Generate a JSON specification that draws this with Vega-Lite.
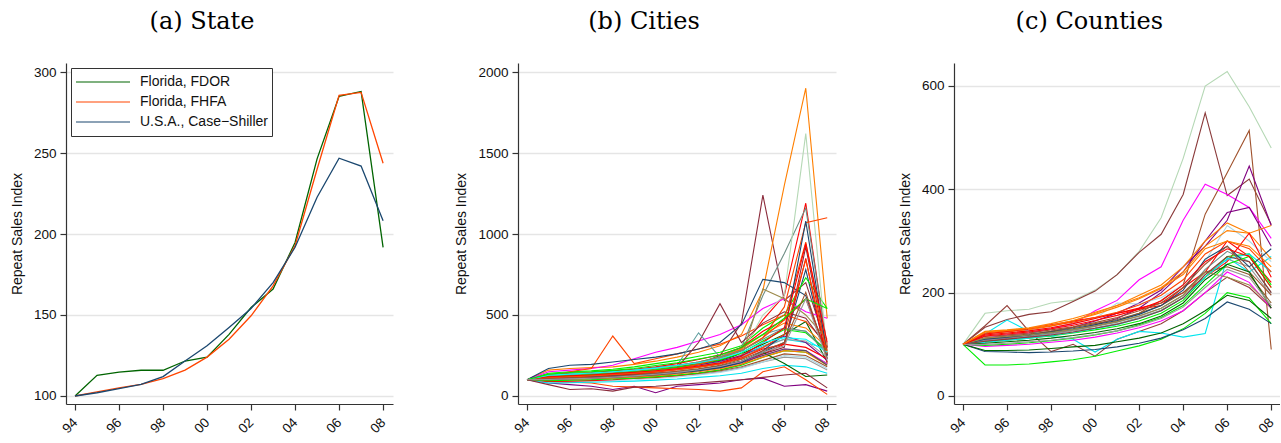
{
"$schema": "https://vega.github.io/schema/vega-lite/v6.json",
"background": "white",
"padding": {"left": 10, "top": 10, "right": 0, "bottom": 0},
"bounds": "flush",
"spacing": 125,
"resolve": {"scale": {"color": "independent"}, "legend": {"color": "independent"}},
"config": {
  "view": {"stroke": null},
  "font": "Liberation Sans",
  "axis": {"labelFont": "Liberation Sans", "labelFontSize": 13.5, "labelColor": "#111", "titleFont": "Liberation Sans", "titleFontSize": 14, "titleFontWeight": "normal", "titleColor": "#111", "domainColor": "#333", "domainWidth": 1.2, "tickColor": "#333", "tickSize": 6, "tickWidth": 1.2, "gridColor": "#e5e5e5", "gridWidth": 1.5, "labelPadding": 4, "titlePadding": 9, "format": "d"},
  "axisX": {"grid": false, "labelAngle": -45, "labelAlign": "right", "labelBaseline": "middle", "labelPadding": 10},
  "axisY": {"grid": true, "labelAngle": 0},
  "title": {"font": "DejaVu Serif", "fontSize": 24, "fontWeight": "normal", "color": "#000", "anchor": "middle", "frame": "group", "offset": 29, "baseline": "alphabetic"},
  "line": {"strokeWidth": 1.2}
},
"datasets": {
"state": [
{"s":"Florida, FDOR","x":1994,"y":100},{"s":"Florida, FDOR","x":1995,"y":112.8},{"s":"Florida, FDOR","x":1996,"y":114.8},{"s":"Florida, FDOR","x":1997,"y":115.9},{"s":"Florida, FDOR","x":1998,"y":115.9},{"s":"Florida, FDOR","x":1999,"y":121.6},{"s":"Florida, FDOR","x":2000,"y":124},{"s":"Florida, FDOR","x":2001,"y":138},{"s":"Florida, FDOR","x":2002,"y":154.6},{"s":"Florida, FDOR","x":2003,"y":166},{"s":"Florida, FDOR","x":2004,"y":194.8},{"s":"Florida, FDOR","x":2005,"y":246.4},{"s":"Florida, FDOR","x":2006,"y":285},{"s":"Florida, FDOR","x":2007,"y":288},{"s":"Florida, FDOR","x":2008,"y":191.8},
{"s":"Florida, FHFA","x":1994,"y":100},{"s":"Florida, FHFA","x":1995,"y":102.5},{"s":"Florida, FHFA","x":1996,"y":105},{"s":"Florida, FHFA","x":1997,"y":107.2},{"s":"Florida, FHFA","x":1998,"y":110.7},{"s":"Florida, FHFA","x":1999,"y":116},{"s":"Florida, FHFA","x":2000,"y":124},{"s":"Florida, FHFA","x":2001,"y":135},{"s":"Florida, FHFA","x":2002,"y":149.5},{"s":"Florida, FHFA","x":2003,"y":168},{"s":"Florida, FHFA","x":2004,"y":192.8},{"s":"Florida, FHFA","x":2005,"y":240},{"s":"Florida, FHFA","x":2006,"y":285.6},{"s":"Florida, FHFA","x":2007,"y":287.4},{"s":"Florida, FHFA","x":2008,"y":243.7},
{"s":"U.S.A., Case−Shiller","x":1994,"y":100},{"s":"U.S.A., Case−Shiller","x":1995,"y":102},{"s":"U.S.A., Case−Shiller","x":1996,"y":104.5},{"s":"U.S.A., Case−Shiller","x":1997,"y":107.2},{"s":"U.S.A., Case−Shiller","x":1998,"y":112},{"s":"U.S.A., Case−Shiller","x":1999,"y":121.6},{"s":"U.S.A., Case−Shiller","x":2000,"y":131},{"s":"U.S.A., Case−Shiller","x":2001,"y":142.3},{"s":"U.S.A., Case−Shiller","x":2002,"y":154},{"s":"U.S.A., Case−Shiller","x":2003,"y":170},{"s":"U.S.A., Case−Shiller","x":2004,"y":191.8},{"s":"U.S.A., Case−Shiller","x":2005,"y":222.7},{"s":"U.S.A., Case−Shiller","x":2006,"y":246.8},{"s":"U.S.A., Case−Shiller","x":2007,"y":241.9},{"s":"U.S.A., Case−Shiller","x":2008,"y":208.2}
],
"cities": [
{"s":"c01","x":1994,"y":100},{"s":"c01","x":1995,"y":110},{"s":"c01","x":1996,"y":112},{"s":"c01","x":1997,"y":115},{"s":"c01","x":1998,"y":120},{"s":"c01","x":1999,"y":128},{"s":"c01","x":2000,"y":140},{"s":"c01","x":2001,"y":150},{"s":"c01","x":2002,"y":165},{"s":"c01","x":2003,"y":185},{"s":"c01","x":2004,"y":215},{"s":"c01","x":2005,"y":270},{"s":"c01","x":2006,"y":330},{"s":"c01","x":2007,"y":780},{"s":"c01","x":2008,"y":230},
{"s":"c02","x":1994,"y":100},{"s":"c02","x":1995,"y":120},{"s":"c02","x":1996,"y":125},{"s":"c02","x":1997,"y":130},{"s":"c02","x":1998,"y":140},{"s":"c02","x":1999,"y":150},{"s":"c02","x":2000,"y":165},{"s":"c02","x":2001,"y":180},{"s":"c02","x":2002,"y":200},{"s":"c02","x":2003,"y":250},{"s":"c02","x":2004,"y":450},{"s":"c02","x":2005,"y":1240},{"s":"c02","x":2006,"y":590},{"s":"c02","x":2007,"y":700},{"s":"c02","x":2008,"y":300},
{"s":"c03","x":1994,"y":100},{"s":"c03","x":1995,"y":115},{"s":"c03","x":1996,"y":120},{"s":"c03","x":1997,"y":125},{"s":"c03","x":1998,"y":135},{"s":"c03","x":1999,"y":145},{"s":"c03","x":2000,"y":160},{"s":"c03","x":2001,"y":175},{"s":"c03","x":2002,"y":195},{"s":"c03","x":2003,"y":220},{"s":"c03","x":2004,"y":260},{"s":"c03","x":2005,"y":320},{"s":"c03","x":2006,"y":380},{"s":"c03","x":2007,"y":460},{"s":"c03","x":2008,"y":210},
{"s":"c04","x":1994,"y":100},{"s":"c04","x":1995,"y":160},{"s":"c04","x":1996,"y":170},{"s":"c04","x":1997,"y":175},{"s":"c04","x":1998,"y":180},{"s":"c04","x":1999,"y":195},{"s":"c04","x":2000,"y":215},{"s":"c04","x":2001,"y":240},{"s":"c04","x":2002,"y":270},{"s":"c04","x":2003,"y":310},{"s":"c04","x":2004,"y":380},{"s":"c04","x":2005,"y":650},{"s":"c04","x":2006,"y":1300},{"s":"c04","x":2007,"y":1900},{"s":"c04","x":2008,"y":480},
{"s":"c05","x":1994,"y":100},{"s":"c05","x":1995,"y":115},{"s":"c05","x":1996,"y":120},{"s":"c05","x":1997,"y":128},{"s":"c05","x":1998,"y":135},{"s":"c05","x":1999,"y":145},{"s":"c05","x":2000,"y":160},{"s":"c05","x":2001,"y":178},{"s":"c05","x":2002,"y":200},{"s":"c05","x":2003,"y":230},{"s":"c05","x":2004,"y":290},{"s":"c05","x":2005,"y":470},{"s":"c05","x":2006,"y":620},{"s":"c05","x":2007,"y":1190},{"s":"c05","x":2008,"y":300},
{"s":"c06","x":1994,"y":100},{"s":"c06","x":1995,"y":140},{"s":"c06","x":1996,"y":150},{"s":"c06","x":1997,"y":155},{"s":"c06","x":1998,"y":165},{"s":"c06","x":1999,"y":180},{"s":"c06","x":2000,"y":200},{"s":"c06","x":2001,"y":220},{"s":"c06","x":2002,"y":245},{"s":"c06","x":2003,"y":270},{"s":"c06","x":2004,"y":310},{"s":"c06","x":2005,"y":420},{"s":"c06","x":2006,"y":500},{"s":"c06","x":2007,"y":730},{"s":"c06","x":2008,"y":540},
{"s":"c07","x":1994,"y":100},{"s":"c07","x":1995,"y":125},{"s":"c07","x":1996,"y":130},{"s":"c07","x":1997,"y":135},{"s":"c07","x":1998,"y":140},{"s":"c07","x":1999,"y":150},{"s":"c07","x":2000,"y":160},{"s":"c07","x":2001,"y":175},{"s":"c07","x":2002,"y":190},{"s":"c07","x":2003,"y":210},{"s":"c07","x":2004,"y":250},{"s":"c07","x":2005,"y":310},{"s":"c07","x":2006,"y":350},{"s":"c07","x":2007,"y":330},{"s":"c07","x":2008,"y":290},
{"s":"c08","x":1994,"y":100},{"s":"c08","x":1995,"y":150},{"s":"c08","x":1996,"y":160},{"s":"c08","x":1997,"y":170},{"s":"c08","x":1998,"y":190},{"s":"c08","x":1999,"y":230},{"s":"c08","x":2000,"y":270},{"s":"c08","x":2001,"y":300},{"s":"c08","x":2002,"y":340},{"s":"c08","x":2003,"y":380},{"s":"c08","x":2004,"y":440},{"s":"c08","x":2005,"y":540},{"s":"c08","x":2006,"y":600},{"s":"c08","x":2007,"y":520},{"s":"c08","x":2008,"y":480},
{"s":"c09","x":1994,"y":100},{"s":"c09","x":1995,"y":80},{"s":"c09","x":1996,"y":70},{"s":"c09","x":1997,"y":60},{"s":"c09","x":1998,"y":40},{"s":"c09","x":1999,"y":60},{"s":"c09","x":2000,"y":20},{"s":"c09","x":2001,"y":60},{"s":"c09","x":2002,"y":70},{"s":"c09","x":2003,"y":80},{"s":"c09","x":2004,"y":100},{"s":"c09","x":2005,"y":110},{"s":"c09","x":2006,"y":60},{"s":"c09","x":2007,"y":70},{"s":"c09","x":2008,"y":30},
{"s":"c10","x":1994,"y":100},{"s":"c10","x":1995,"y":120},{"s":"c10","x":1996,"y":150},{"s":"c10","x":1997,"y":170},{"s":"c10","x":1998,"y":370},{"s":"c10","x":1999,"y":200},{"s":"c10","x":2000,"y":230},{"s":"c10","x":2001,"y":260},{"s":"c10","x":2002,"y":290},{"s":"c10","x":2003,"y":320},{"s":"c10","x":2004,"y":370},{"s":"c10","x":2005,"y":440},{"s":"c10","x":2006,"y":500},{"s":"c10","x":2007,"y":460},{"s":"c10","x":2008,"y":320},
{"s":"c11","x":1994,"y":100},{"s":"c11","x":1995,"y":130},{"s":"c11","x":1996,"y":135},{"s":"c11","x":1997,"y":140},{"s":"c11","x":1998,"y":150},{"s":"c11","x":1999,"y":160},{"s":"c11","x":2000,"y":175},{"s":"c11","x":2001,"y":190},{"s":"c11","x":2002,"y":210},{"s":"c11","x":2003,"y":240},{"s":"c11","x":2004,"y":300},{"s":"c11","x":2005,"y":620},{"s":"c11","x":2006,"y":880},{"s":"c11","x":2007,"y":1160},{"s":"c11","x":2008,"y":300},
{"s":"c12","x":1994,"y":100},{"s":"c12","x":1995,"y":105},{"s":"c12","x":1996,"y":110},{"s":"c12","x":1997,"y":115},{"s":"c12","x":1998,"y":120},{"s":"c12","x":1999,"y":128},{"s":"c12","x":2000,"y":140},{"s":"c12","x":2001,"y":155},{"s":"c12","x":2002,"y":175},{"s":"c12","x":2003,"y":200},{"s":"c12","x":2004,"y":260},{"s":"c12","x":2005,"y":500},{"s":"c12","x":2006,"y":620},{"s":"c12","x":2007,"y":1620},{"s":"c12","x":2008,"y":250},
{"s":"c13","x":1994,"y":100},{"s":"c13","x":1995,"y":100},{"s":"c13","x":1996,"y":102},{"s":"c13","x":1997,"y":105},{"s":"c13","x":1998,"y":110},{"s":"c13","x":1999,"y":115},{"s":"c13","x":2000,"y":122},{"s":"c13","x":2001,"y":130},{"s":"c13","x":2002,"y":140},{"s":"c13","x":2003,"y":155},{"s":"c13","x":2004,"y":180},{"s":"c13","x":2005,"y":220},{"s":"c13","x":2006,"y":260},{"s":"c13","x":2007,"y":250},{"s":"c13","x":2008,"y":180},
{"s":"c14","x":1994,"y":100},{"s":"c14","x":1995,"y":95},{"s":"c14","x":1996,"y":100},{"s":"c14","x":1997,"y":105},{"s":"c14","x":1998,"y":108},{"s":"c14","x":1999,"y":112},{"s":"c14","x":2000,"y":118},{"s":"c14","x":2001,"y":125},{"s":"c14","x":2002,"y":135},{"s":"c14","x":2003,"y":150},{"s":"c14","x":2004,"y":175},{"s":"c14","x":2005,"y":210},{"s":"c14","x":2006,"y":240},{"s":"c14","x":2007,"y":230},{"s":"c14","x":2008,"y":160},
{"s":"c15","x":1994,"y":100},{"s":"c15","x":1995,"y":85},{"s":"c15","x":1996,"y":88},{"s":"c15","x":1997,"y":92},{"s":"c15","x":1998,"y":95},{"s":"c15","x":1999,"y":100},{"s":"c15","x":2000,"y":108},{"s":"c15","x":2001,"y":118},{"s":"c15","x":2002,"y":130},{"s":"c15","x":2003,"y":145},{"s":"c15","x":2004,"y":170},{"s":"c15","x":2005,"y":210},{"s":"c15","x":2006,"y":250},{"s":"c15","x":2007,"y":240},{"s":"c15","x":2008,"y":170},
{"s":"c16","x":1994,"y":100},{"s":"c16","x":1995,"y":170},{"s":"c16","x":1996,"y":190},{"s":"c16","x":1997,"y":195},{"s":"c16","x":1998,"y":210},{"s":"c16","x":1999,"y":225},{"s":"c16","x":2000,"y":240},{"s":"c16","x":2001,"y":260},{"s":"c16","x":2002,"y":290},{"s":"c16","x":2003,"y":330},{"s":"c16","x":2004,"y":440},{"s":"c16","x":2005,"y":720},{"s":"c16","x":2006,"y":700},{"s":"c16","x":2007,"y":620},{"s":"c16","x":2008,"y":250},
{"s":"c17","x":1994,"y":100},{"s":"c17","x":1995,"y":105},{"s":"c17","x":1996,"y":110},{"s":"c17","x":1997,"y":118},{"s":"c17","x":1998,"y":125},{"s":"c17","x":1999,"y":135},{"s":"c17","x":2000,"y":150},{"s":"c17","x":2001,"y":170},{"s":"c17","x":2002,"y":195},{"s":"c17","x":2003,"y":230},{"s":"c17","x":2004,"y":280},{"s":"c17","x":2005,"y":360},{"s":"c17","x":2006,"y":550},{"s":"c17","x":2007,"y":1070},{"s":"c17","x":2008,"y":1100},
{"s":"c18","x":1994,"y":100},{"s":"c18","x":1995,"y":110},{"s":"c18","x":1996,"y":115},{"s":"c18","x":1997,"y":120},{"s":"c18","x":1998,"y":130},{"s":"c18","x":1999,"y":140},{"s":"c18","x":2000,"y":155},{"s":"c18","x":2001,"y":175},{"s":"c18","x":2002,"y":330},{"s":"c18","x":2003,"y":570},{"s":"c18","x":2004,"y":330},{"s":"c18","x":2005,"y":450},{"s":"c18","x":2006,"y":520},{"s":"c18","x":2007,"y":480},{"s":"c18","x":2008,"y":300},
{"s":"c19","x":1994,"y":100},{"s":"c19","x":1995,"y":120},{"s":"c19","x":1996,"y":125},{"s":"c19","x":1997,"y":130},{"s":"c19","x":1998,"y":140},{"s":"c19","x":1999,"y":150},{"s":"c19","x":2000,"y":165},{"s":"c19","x":2001,"y":190},{"s":"c19","x":2002,"y":390},{"s":"c19","x":2003,"y":240},{"s":"c19","x":2004,"y":300},{"s":"c19","x":2005,"y":380},{"s":"c19","x":2006,"y":420},{"s":"c19","x":2007,"y":400},{"s":"c19","x":2008,"y":280},
{"s":"c20","x":1994,"y":100},{"s":"c20","x":1995,"y":90},{"s":"c20","x":1996,"y":85},{"s":"c20","x":1997,"y":80},{"s":"c20","x":1998,"y":60},{"s":"c20","x":1999,"y":55},{"s":"c20","x":2000,"y":50},{"s":"c20","x":2001,"y":45},{"s":"c20","x":2002,"y":40},{"s":"c20","x":2003,"y":30},{"s":"c20","x":2004,"y":50},{"s":"c20","x":2005,"y":150},{"s":"c20","x":2006,"y":180},{"s":"c20","x":2007,"y":100},{"s":"c20","x":2008,"y":10},
{"s":"c21","x":1994,"y":100},{"s":"c21","x":1995,"y":90},{"s":"c21","x":1996,"y":92},{"s":"c21","x":1997,"y":95},{"s":"c21","x":1998,"y":100},{"s":"c21","x":1999,"y":108},{"s":"c21","x":2000,"y":115},{"s":"c21","x":2001,"y":125},{"s":"c21","x":2002,"y":140},{"s":"c21","x":2003,"y":160},{"s":"c21","x":2004,"y":195},{"s":"c21","x":2005,"y":260},{"s":"c21","x":2006,"y":320},{"s":"c21","x":2007,"y":850},{"s":"c21","x":2008,"y":200},
{"s":"c22","x":1994,"y":100},{"s":"c22","x":1995,"y":120},{"s":"c22","x":1996,"y":125},{"s":"c22","x":1997,"y":130},{"s":"c22","x":1998,"y":140},{"s":"c22","x":1999,"y":150},{"s":"c22","x":2000,"y":165},{"s":"c22","x":2001,"y":185},{"s":"c22","x":2002,"y":210},{"s":"c22","x":2003,"y":240},{"s":"c22","x":2004,"y":290},{"s":"c22","x":2005,"y":380},{"s":"c22","x":2006,"y":450},{"s":"c22","x":2007,"y":420},{"s":"c22","x":2008,"y":300},
{"s":"c23","x":1994,"y":100},{"s":"c23","x":1995,"y":115},{"s":"c23","x":1996,"y":120},{"s":"c23","x":1997,"y":125},{"s":"c23","x":1998,"y":130},{"s":"c23","x":1999,"y":140},{"s":"c23","x":2000,"y":150},{"s":"c23","x":2001,"y":165},{"s":"c23","x":2002,"y":180},{"s":"c23","x":2003,"y":200},{"s":"c23","x":2004,"y":240},{"s":"c23","x":2005,"y":660},{"s":"c23","x":2006,"y":600},{"s":"c23","x":2007,"y":500},{"s":"c23","x":2008,"y":350},
{"s":"c24","x":1994,"y":100},{"s":"c24","x":1995,"y":120},{"s":"c24","x":1996,"y":125},{"s":"c24","x":1997,"y":130},{"s":"c24","x":1998,"y":138},{"s":"c24","x":1999,"y":148},{"s":"c24","x":2000,"y":160},{"s":"c24","x":2001,"y":175},{"s":"c24","x":2002,"y":192},{"s":"c24","x":2003,"y":215},{"s":"c24","x":2004,"y":250},{"s":"c24","x":2005,"y":300},{"s":"c24","x":2006,"y":370},{"s":"c24","x":2007,"y":330},{"s":"c24","x":2008,"y":220},
{"s":"c25","x":1994,"y":100},{"s":"c25","x":1995,"y":110},{"s":"c25","x":1996,"y":112},{"s":"c25","x":1997,"y":114},{"s":"c25","x":1998,"y":118},{"s":"c25","x":1999,"y":125},{"s":"c25","x":2000,"y":135},{"s":"c25","x":2001,"y":145},{"s":"c25","x":2002,"y":160},{"s":"c25","x":2003,"y":180},{"s":"c25","x":2004,"y":210},{"s":"c25","x":2005,"y":260},{"s":"c25","x":2006,"y":300},{"s":"c25","x":2007,"y":920},{"s":"c25","x":2008,"y":250},
{"s":"c26","x":1994,"y":100},{"s":"c26","x":1995,"y":80},{"s":"c26","x":1996,"y":82},{"s":"c26","x":1997,"y":85},{"s":"c26","x":1998,"y":88},{"s":"c26","x":1999,"y":92},{"s":"c26","x":2000,"y":98},{"s":"c26","x":2001,"y":105},{"s":"c26","x":2002,"y":115},{"s":"c26","x":2003,"y":125},{"s":"c26","x":2004,"y":140},{"s":"c26","x":2005,"y":170},{"s":"c26","x":2006,"y":190},{"s":"c26","x":2007,"y":180},{"s":"c26","x":2008,"y":140},
{"s":"c27","x":1994,"y":100},{"s":"c27","x":1995,"y":95},{"s":"c27","x":1996,"y":98},{"s":"c27","x":1997,"y":100},{"s":"c27","x":1998,"y":105},{"s":"c27","x":1999,"y":110},{"s":"c27","x":2000,"y":118},{"s":"c27","x":2001,"y":128},{"s":"c27","x":2002,"y":142},{"s":"c27","x":2003,"y":160},{"s":"c27","x":2004,"y":190},{"s":"c27","x":2005,"y":240},{"s":"c27","x":2006,"y":280},{"s":"c27","x":2007,"y":270},{"s":"c27","x":2008,"y":200},
{"s":"c28","x":1994,"y":100},{"s":"c28","x":1995,"y":125},{"s":"c28","x":1996,"y":130},{"s":"c28","x":1997,"y":135},{"s":"c28","x":1998,"y":140},{"s":"c28","x":1999,"y":148},{"s":"c28","x":2000,"y":158},{"s":"c28","x":2001,"y":170},{"s":"c28","x":2002,"y":185},{"s":"c28","x":2003,"y":205},{"s":"c28","x":2004,"y":240},{"s":"c28","x":2005,"y":300},{"s":"c28","x":2006,"y":350},{"s":"c28","x":2007,"y":340},{"s":"c28","x":2008,"y":240},
{"s":"c29","x":1994,"y":100},{"s":"c29","x":1995,"y":130},{"s":"c29","x":1996,"y":140},{"s":"c29","x":1997,"y":145},{"s":"c29","x":1998,"y":155},{"s":"c29","x":1999,"y":165},{"s":"c29","x":2000,"y":180},{"s":"c29","x":2001,"y":200},{"s":"c29","x":2002,"y":225},{"s":"c29","x":2003,"y":255},{"s":"c29","x":2004,"y":300},{"s":"c29","x":2005,"y":400},{"s":"c29","x":2006,"y":470},{"s":"c29","x":2007,"y":600},{"s":"c29","x":2008,"y":260},
{"s":"c30","x":1994,"y":100},{"s":"c30","x":1995,"y":120},{"s":"c30","x":1996,"y":126},{"s":"c30","x":1997,"y":132},{"s":"c30","x":1998,"y":140},{"s":"c30","x":1999,"y":150},{"s":"c30","x":2000,"y":162},{"s":"c30","x":2001,"y":178},{"s":"c30","x":2002,"y":198},{"s":"c30","x":2003,"y":222},{"s":"c30","x":2004,"y":265},{"s":"c30","x":2005,"y":340},{"s":"c30","x":2006,"y":410},{"s":"c30","x":2007,"y":390},{"s":"c30","x":2008,"y":280},
{"s":"c31","x":1994,"y":100},{"s":"c31","x":1995,"y":100},{"s":"c31","x":1996,"y":104},{"s":"c31","x":1997,"y":108},{"s":"c31","x":1998,"y":112},{"s":"c31","x":1999,"y":118},{"s":"c31","x":2000,"y":126},{"s":"c31","x":2001,"y":136},{"s":"c31","x":2002,"y":150},{"s":"c31","x":2003,"y":168},{"s":"c31","x":2004,"y":196},{"s":"c31","x":2005,"y":240},{"s":"c31","x":2006,"y":280},{"s":"c31","x":2007,"y":270},{"s":"c31","x":2008,"y":190},
{"s":"c32","x":1994,"y":100},{"s":"c32","x":1995,"y":105},{"s":"c32","x":1996,"y":110},{"s":"c32","x":1997,"y":115},{"s":"c32","x":1998,"y":120},{"s":"c32","x":1999,"y":128},{"s":"c32","x":2000,"y":138},{"s":"c32","x":2001,"y":150},{"s":"c32","x":2002,"y":165},{"s":"c32","x":2003,"y":185},{"s":"c32","x":2004,"y":215},{"s":"c32","x":2005,"y":270},{"s":"c32","x":2006,"y":200},{"s":"c32","x":2007,"y":120},{"s":"c32","x":2008,"y":130},
{"s":"c33","x":1994,"y":100},{"s":"c33","x":1995,"y":105},{"s":"c33","x":1996,"y":110},{"s":"c33","x":1997,"y":118},{"s":"c33","x":1998,"y":125},{"s":"c33","x":1999,"y":135},{"s":"c33","x":2000,"y":150},{"s":"c33","x":2001,"y":170},{"s":"c33","x":2002,"y":195},{"s":"c33","x":2003,"y":230},{"s":"c33","x":2004,"y":280},{"s":"c33","x":2005,"y":360},{"s":"c33","x":2006,"y":470},{"s":"c33","x":2007,"y":950},{"s":"c33","x":2008,"y":280},
{"s":"c34","x":1994,"y":100},{"s":"c34","x":1995,"y":110},{"s":"c34","x":1996,"y":115},{"s":"c34","x":1997,"y":120},{"s":"c34","x":1998,"y":128},{"s":"c34","x":1999,"y":136},{"s":"c34","x":2000,"y":148},{"s":"c34","x":2001,"y":162},{"s":"c34","x":2002,"y":180},{"s":"c34","x":2003,"y":200},{"s":"c34","x":2004,"y":235},{"s":"c34","x":2005,"y":290},{"s":"c34","x":2006,"y":320},{"s":"c34","x":2007,"y":300},{"s":"c34","x":2008,"y":230},
{"s":"c35","x":1994,"y":100},{"s":"c35","x":1995,"y":105},{"s":"c35","x":1996,"y":108},{"s":"c35","x":1997,"y":112},{"s":"c35","x":1998,"y":118},{"s":"c35","x":1999,"y":125},{"s":"c35","x":2000,"y":135},{"s":"c35","x":2001,"y":145},{"s":"c35","x":2002,"y":160},{"s":"c35","x":2003,"y":180},{"s":"c35","x":2004,"y":210},{"s":"c35","x":2005,"y":250},{"s":"c35","x":2006,"y":290},{"s":"c35","x":2007,"y":280},{"s":"c35","x":2008,"y":200},
{"s":"c36","x":1994,"y":100},{"s":"c36","x":1995,"y":130},{"s":"c36","x":1996,"y":135},{"s":"c36","x":1997,"y":140},{"s":"c36","x":1998,"y":150},{"s":"c36","x":1999,"y":160},{"s":"c36","x":2000,"y":175},{"s":"c36","x":2001,"y":190},{"s":"c36","x":2002,"y":210},{"s":"c36","x":2003,"y":240},{"s":"c36","x":2004,"y":280},{"s":"c36","x":2005,"y":350},{"s":"c36","x":2006,"y":420},{"s":"c36","x":2007,"y":400},{"s":"c36","x":2008,"y":260},
{"s":"c37","x":1994,"y":100},{"s":"c37","x":1995,"y":100},{"s":"c37","x":1996,"y":105},{"s":"c37","x":1997,"y":110},{"s":"c37","x":1998,"y":115},{"s":"c37","x":1999,"y":122},{"s":"c37","x":2000,"y":130},{"s":"c37","x":2001,"y":140},{"s":"c37","x":2002,"y":155},{"s":"c37","x":2003,"y":175},{"s":"c37","x":2004,"y":205},{"s":"c37","x":2005,"y":250},{"s":"c37","x":2006,"y":290},{"s":"c37","x":2007,"y":280},{"s":"c37","x":2008,"y":190},
{"s":"c38","x":1994,"y":100},{"s":"c38","x":1995,"y":70},{"s":"c38","x":1996,"y":40},{"s":"c38","x":1997,"y":45},{"s":"c38","x":1998,"y":30},{"s":"c38","x":1999,"y":55},{"s":"c38","x":2000,"y":60},{"s":"c38","x":2001,"y":70},{"s":"c38","x":2002,"y":80},{"s":"c38","x":2003,"y":90},{"s":"c38","x":2004,"y":100},{"s":"c38","x":2005,"y":115},{"s":"c38","x":2006,"y":130},{"s":"c38","x":2007,"y":140},{"s":"c38","x":2008,"y":50},
{"s":"c39","x":1994,"y":100},{"s":"c39","x":1995,"y":110},{"s":"c39","x":1996,"y":114},{"s":"c39","x":1997,"y":118},{"s":"c39","x":1998,"y":124},{"s":"c39","x":1999,"y":130},{"s":"c39","x":2000,"y":138},{"s":"c39","x":2001,"y":146},{"s":"c39","x":2002,"y":158},{"s":"c39","x":2003,"y":175},{"s":"c39","x":2004,"y":205},{"s":"c39","x":2005,"y":280},{"s":"c39","x":2006,"y":380},{"s":"c39","x":2007,"y":1080},{"s":"c39","x":2008,"y":250},
{"s":"c40","x":1994,"y":100},{"s":"c40","x":1995,"y":118},{"s":"c40","x":1996,"y":124},{"s":"c40","x":1997,"y":130},{"s":"c40","x":1998,"y":138},{"s":"c40","x":1999,"y":146},{"s":"c40","x":2000,"y":156},{"s":"c40","x":2001,"y":168},{"s":"c40","x":2002,"y":185},{"s":"c40","x":2003,"y":205},{"s":"c40","x":2004,"y":245},{"s":"c40","x":2005,"y":330},{"s":"c40","x":2006,"y":420},{"s":"c40","x":2007,"y":940},{"s":"c40","x":2008,"y":330},
{"s":"c41","x":1994,"y":100},{"s":"c41","x":1995,"y":112},{"s":"c41","x":1996,"y":118},{"s":"c41","x":1997,"y":124},{"s":"c41","x":1998,"y":132},{"s":"c41","x":1999,"y":140},{"s":"c41","x":2000,"y":150},{"s":"c41","x":2001,"y":162},{"s":"c41","x":2002,"y":178},{"s":"c41","x":2003,"y":198},{"s":"c41","x":2004,"y":230},{"s":"c41","x":2005,"y":300},{"s":"c41","x":2006,"y":380},{"s":"c41","x":2007,"y":840},{"s":"c41","x":2008,"y":260},
{"s":"c42","x":1994,"y":100},{"s":"c42","x":1995,"y":128},{"s":"c42","x":1996,"y":135},{"s":"c42","x":1997,"y":142},{"s":"c42","x":1998,"y":150},{"s":"c42","x":1999,"y":160},{"s":"c42","x":2000,"y":172},{"s":"c42","x":2001,"y":188},{"s":"c42","x":2002,"y":205},{"s":"c42","x":2003,"y":230},{"s":"c42","x":2004,"y":270},{"s":"c42","x":2005,"y":330},{"s":"c42","x":2006,"y":360},{"s":"c42","x":2007,"y":350},{"s":"c42","x":2008,"y":270},
{"s":"c43","x":1994,"y":100},{"s":"c43","x":1995,"y":135},{"s":"c43","x":1996,"y":145},{"s":"c43","x":1997,"y":150},{"s":"c43","x":1998,"y":158},{"s":"c43","x":1999,"y":170},{"s":"c43","x":2000,"y":188},{"s":"c43","x":2001,"y":205},{"s":"c43","x":2002,"y":228},{"s":"c43","x":2003,"y":252},{"s":"c43","x":2004,"y":300},{"s":"c43","x":2005,"y":380},{"s":"c43","x":2006,"y":480},{"s":"c43","x":2007,"y":600},{"s":"c43","x":2008,"y":540},
{"s":"c44","x":1994,"y":100},{"s":"c44","x":1995,"y":108},{"s":"c44","x":1996,"y":112},{"s":"c44","x":1997,"y":116},{"s":"c44","x":1998,"y":122},{"s":"c44","x":1999,"y":130},{"s":"c44","x":2000,"y":140},{"s":"c44","x":2001,"y":152},{"s":"c44","x":2002,"y":168},{"s":"c44","x":2003,"y":190},{"s":"c44","x":2004,"y":225},{"s":"c44","x":2005,"y":280},{"s":"c44","x":2006,"y":330},{"s":"c44","x":2007,"y":640},{"s":"c44","x":2008,"y":230},
{"s":"c45","x":1994,"y":100},{"s":"c45","x":1995,"y":102},{"s":"c45","x":1996,"y":106},{"s":"c45","x":1997,"y":110},{"s":"c45","x":1998,"y":116},{"s":"c45","x":1999,"y":124},{"s":"c45","x":2000,"y":134},{"s":"c45","x":2001,"y":146},{"s":"c45","x":2002,"y":162},{"s":"c45","x":2003,"y":182},{"s":"c45","x":2004,"y":215},{"s":"c45","x":2005,"y":270},{"s":"c45","x":2006,"y":310},{"s":"c45","x":2007,"y":600},{"s":"c45","x":2008,"y":220}
],
"counties": [
{"s":"k01","x":1994,"y":100},{"s":"k01","x":1995,"y":160},{"s":"k01","x":1996,"y":165},{"s":"k01","x":1997,"y":168},{"s":"k01","x":1998,"y":180},{"s":"k01","x":1999,"y":185},{"s":"k01","x":2000,"y":205},{"s":"k01","x":2001,"y":235},{"s":"k01","x":2002,"y":280},{"s":"k01","x":2003,"y":345},{"s":"k01","x":2004,"y":460},{"s":"k01","x":2005,"y":600},{"s":"k01","x":2006,"y":628},{"s":"k01","x":2007,"y":560},{"s":"k01","x":2008,"y":480},
{"s":"k02","x":1994,"y":100},{"s":"k02","x":1995,"y":133},{"s":"k02","x":1996,"y":148},{"s":"k02","x":1997,"y":158},{"s":"k02","x":1998,"y":163},{"s":"k02","x":1999,"y":183},{"s":"k02","x":2000,"y":203},{"s":"k02","x":2001,"y":235},{"s":"k02","x":2002,"y":278},{"s":"k02","x":2003,"y":313},{"s":"k02","x":2004,"y":390},{"s":"k02","x":2005,"y":548},{"s":"k02","x":2006,"y":388},{"s":"k02","x":2007,"y":420},{"s":"k02","x":2008,"y":332},
{"s":"k03","x":1994,"y":100},{"s":"k03","x":1995,"y":136},{"s":"k03","x":1996,"y":175},{"s":"k03","x":1997,"y":125},{"s":"k03","x":1998,"y":86},{"s":"k03","x":1999,"y":100},{"s":"k03","x":2000,"y":77},{"s":"k03","x":2001,"y":110},{"s":"k03","x":2002,"y":125},{"s":"k03","x":2003,"y":140},{"s":"k03","x":2004,"y":165},{"s":"k03","x":2005,"y":200},{"s":"k03","x":2006,"y":230},{"s":"k03","x":2007,"y":210},{"s":"k03","x":2008,"y":170},
{"s":"k04","x":1994,"y":100},{"s":"k04","x":1995,"y":110},{"s":"k04","x":1996,"y":115},{"s":"k04","x":1997,"y":118},{"s":"k04","x":1998,"y":122},{"s":"k04","x":1999,"y":128},{"s":"k04","x":2000,"y":135},{"s":"k04","x":2001,"y":145},{"s":"k04","x":2002,"y":160},{"s":"k04","x":2003,"y":185},{"s":"k04","x":2004,"y":215},{"s":"k04","x":2005,"y":352},{"s":"k04","x":2006,"y":432},{"s":"k04","x":2007,"y":514},{"s":"k04","x":2008,"y":90},
{"s":"k05","x":1994,"y":100},{"s":"k05","x":1995,"y":112},{"s":"k05","x":1996,"y":118},{"s":"k05","x":1997,"y":122},{"s":"k05","x":1998,"y":130},{"s":"k05","x":1999,"y":140},{"s":"k05","x":2000,"y":165},{"s":"k05","x":2001,"y":185},{"s":"k05","x":2002,"y":225},{"s":"k05","x":2003,"y":250},{"s":"k05","x":2004,"y":340},{"s":"k05","x":2005,"y":410},{"s":"k05","x":2006,"y":390},{"s":"k05","x":2007,"y":365},{"s":"k05","x":2008,"y":305},
{"s":"k06","x":1994,"y":100},{"s":"k06","x":1995,"y":105},{"s":"k06","x":1996,"y":110},{"s":"k06","x":1997,"y":115},{"s":"k06","x":1998,"y":120},{"s":"k06","x":1999,"y":128},{"s":"k06","x":2000,"y":138},{"s":"k06","x":2001,"y":150},{"s":"k06","x":2002,"y":170},{"s":"k06","x":2003,"y":200},{"s":"k06","x":2004,"y":240},{"s":"k06","x":2005,"y":300},{"s":"k06","x":2006,"y":355},{"s":"k06","x":2007,"y":365},{"s":"k06","x":2008,"y":290},
{"s":"k07","x":1994,"y":100},{"s":"k07","x":1995,"y":108},{"s":"k07","x":1996,"y":112},{"s":"k07","x":1997,"y":118},{"s":"k07","x":1998,"y":125},{"s":"k07","x":1999,"y":133},{"s":"k07","x":2000,"y":145},{"s":"k07","x":2001,"y":160},{"s":"k07","x":2002,"y":180},{"s":"k07","x":2003,"y":205},{"s":"k07","x":2004,"y":250},{"s":"k07","x":2005,"y":290},{"s":"k07","x":2006,"y":340},{"s":"k07","x":2007,"y":445},{"s":"k07","x":2008,"y":330},
{"s":"k08","x":1994,"y":100},{"s":"k08","x":1995,"y":120},{"s":"k08","x":1996,"y":124},{"s":"k08","x":1997,"y":128},{"s":"k08","x":1998,"y":135},{"s":"k08","x":1999,"y":145},{"s":"k08","x":2000,"y":160},{"s":"k08","x":2001,"y":175},{"s":"k08","x":2002,"y":195},{"s":"k08","x":2003,"y":215},{"s":"k08","x":2004,"y":250},{"s":"k08","x":2005,"y":300},{"s":"k08","x":2006,"y":335},{"s":"k08","x":2007,"y":315},{"s":"k08","x":2008,"y":330},
{"s":"k09","x":1994,"y":100},{"s":"k09","x":1995,"y":60},{"s":"k09","x":1996,"y":60},{"s":"k09","x":1997,"y":62},{"s":"k09","x":1998,"y":66},{"s":"k09","x":1999,"y":70},{"s":"k09","x":2000,"y":77},{"s":"k09","x":2001,"y":87},{"s":"k09","x":2002,"y":97},{"s":"k09","x":2003,"y":110},{"s":"k09","x":2004,"y":130},{"s":"k09","x":2005,"y":160},{"s":"k09","x":2006,"y":200},{"s":"k09","x":2007,"y":190},{"s":"k09","x":2008,"y":140},
{"s":"k10","x":1994,"y":100},{"s":"k10","x":1995,"y":120},{"s":"k10","x":1996,"y":147},{"s":"k10","x":1997,"y":125},{"s":"k10","x":1998,"y":115},{"s":"k10","x":1999,"y":110},{"s":"k10","x":2000,"y":85},{"s":"k10","x":2001,"y":110},{"s":"k10","x":2002,"y":125},{"s":"k10","x":2003,"y":122},{"s":"k10","x":2004,"y":114},{"s":"k10","x":2005,"y":121},{"s":"k10","x":2006,"y":268},{"s":"k10","x":2007,"y":240},{"s":"k10","x":2008,"y":270},
{"s":"k11","x":1994,"y":100},{"s":"k11","x":1995,"y":86},{"s":"k11","x":1996,"y":85},{"s":"k11","x":1997,"y":84},{"s":"k11","x":1998,"y":85},{"s":"k11","x":1999,"y":87},{"s":"k11","x":2000,"y":90},{"s":"k11","x":2001,"y":95},{"s":"k11","x":2002,"y":102},{"s":"k11","x":2003,"y":112},{"s":"k11","x":2004,"y":128},{"s":"k11","x":2005,"y":150},{"s":"k11","x":2006,"y":182},{"s":"k11","x":2007,"y":168},{"s":"k11","x":2008,"y":140},
{"s":"k12","x":1994,"y":100},{"s":"k12","x":1995,"y":88},{"s":"k12","x":1996,"y":88},{"s":"k12","x":1997,"y":89},{"s":"k12","x":1998,"y":92},{"s":"k12","x":1999,"y":95},{"s":"k12","x":2000,"y":98},{"s":"k12","x":2001,"y":105},{"s":"k12","x":2002,"y":112},{"s":"k12","x":2003,"y":122},{"s":"k12","x":2004,"y":140},{"s":"k12","x":2005,"y":165},{"s":"k12","x":2006,"y":195},{"s":"k12","x":2007,"y":185},{"s":"k12","x":2008,"y":150},
{"s":"k13","x":1994,"y":100},{"s":"k13","x":1995,"y":118},{"s":"k13","x":1996,"y":122},{"s":"k13","x":1997,"y":126},{"s":"k13","x":1998,"y":132},{"s":"k13","x":1999,"y":140},{"s":"k13","x":2000,"y":150},{"s":"k13","x":2001,"y":180},{"s":"k13","x":2002,"y":178},{"s":"k13","x":2003,"y":190},{"s":"k13","x":2004,"y":215},{"s":"k13","x":2005,"y":260},{"s":"k13","x":2006,"y":330},{"s":"k13","x":2007,"y":300},{"s":"k13","x":2008,"y":260},
{"s":"k14","x":1994,"y":100},{"s":"k14","x":1995,"y":125},{"s":"k14","x":1996,"y":128},{"s":"k14","x":1997,"y":132},{"s":"k14","x":1998,"y":140},{"s":"k14","x":1999,"y":150},{"s":"k14","x":2000,"y":162},{"s":"k14","x":2001,"y":175},{"s":"k14","x":2002,"y":190},{"s":"k14","x":2003,"y":210},{"s":"k14","x":2004,"y":240},{"s":"k14","x":2005,"y":290},{"s":"k14","x":2006,"y":320},{"s":"k14","x":2007,"y":315},{"s":"k14","x":2008,"y":265},
{"s":"k15","x":1994,"y":100},{"s":"k15","x":1995,"y":118},{"s":"k15","x":1996,"y":122},{"s":"k15","x":1997,"y":126},{"s":"k15","x":1998,"y":132},{"s":"k15","x":1999,"y":140},{"s":"k15","x":2000,"y":150},{"s":"k15","x":2001,"y":160},{"s":"k15","x":2002,"y":170},{"s":"k15","x":2003,"y":180},{"s":"k15","x":2004,"y":200},{"s":"k15","x":2005,"y":230},{"s":"k15","x":2006,"y":260},{"s":"k15","x":2007,"y":315},{"s":"k15","x":2008,"y":230},
{"s":"k16","x":1994,"y":100},{"s":"k16","x":1995,"y":120},{"s":"k16","x":1996,"y":125},{"s":"k16","x":1997,"y":130},{"s":"k16","x":1998,"y":138},{"s":"k16","x":1999,"y":145},{"s":"k16","x":2000,"y":152},{"s":"k16","x":2001,"y":160},{"s":"k16","x":2002,"y":168},{"s":"k16","x":2003,"y":175},{"s":"k16","x":2004,"y":210},{"s":"k16","x":2005,"y":240},{"s":"k16","x":2006,"y":300},{"s":"k16","x":2007,"y":270},{"s":"k16","x":2008,"y":220},
{"s":"k17","x":1994,"y":100},{"s":"k17","x":1995,"y":105},{"s":"k17","x":1996,"y":108},{"s":"k17","x":1997,"y":112},{"s":"k17","x":1998,"y":116},{"s":"k17","x":1999,"y":122},{"s":"k17","x":2000,"y":128},{"s":"k17","x":2001,"y":135},{"s":"k17","x":2002,"y":145},{"s":"k17","x":2003,"y":160},{"s":"k17","x":2004,"y":185},{"s":"k17","x":2005,"y":230},{"s":"k17","x":2006,"y":270},{"s":"k17","x":2007,"y":275},{"s":"k17","x":2008,"y":215},
{"s":"k18","x":1994,"y":100},{"s":"k18","x":1995,"y":110},{"s":"k18","x":1996,"y":113},{"s":"k18","x":1997,"y":117},{"s":"k18","x":1998,"y":122},{"s":"k18","x":1999,"y":128},{"s":"k18","x":2000,"y":135},{"s":"k18","x":2001,"y":143},{"s":"k18","x":2002,"y":155},{"s":"k18","x":2003,"y":170},{"s":"k18","x":2004,"y":195},{"s":"k18","x":2005,"y":245},{"s":"k18","x":2006,"y":280},{"s":"k18","x":2007,"y":260},{"s":"k18","x":2008,"y":200},
{"s":"k19","x":1994,"y":100},{"s":"k19","x":1995,"y":108},{"s":"k19","x":1996,"y":111},{"s":"k19","x":1997,"y":115},{"s":"k19","x":1998,"y":120},{"s":"k19","x":1999,"y":126},{"s":"k19","x":2000,"y":132},{"s":"k19","x":2001,"y":140},{"s":"k19","x":2002,"y":152},{"s":"k19","x":2003,"y":166},{"s":"k19","x":2004,"y":190},{"s":"k19","x":2005,"y":235},{"s":"k19","x":2006,"y":265},{"s":"k19","x":2007,"y":250},{"s":"k19","x":2008,"y":195},
{"s":"k20","x":1994,"y":100},{"s":"k20","x":1995,"y":112},{"s":"k20","x":1996,"y":116},{"s":"k20","x":1997,"y":120},{"s":"k20","x":1998,"y":125},{"s":"k20","x":1999,"y":132},{"s":"k20","x":2000,"y":140},{"s":"k20","x":2001,"y":148},{"s":"k20","x":2002,"y":160},{"s":"k20","x":2003,"y":175},{"s":"k20","x":2004,"y":200},{"s":"k20","x":2005,"y":240},{"s":"k20","x":2006,"y":250},{"s":"k20","x":2007,"y":235},{"s":"k20","x":2008,"y":180},
{"s":"k21","x":1994,"y":100},{"s":"k21","x":1995,"y":96},{"s":"k21","x":1996,"y":98},{"s":"k21","x":1997,"y":100},{"s":"k21","x":1998,"y":104},{"s":"k21","x":1999,"y":108},{"s":"k21","x":2000,"y":114},{"s":"k21","x":2001,"y":122},{"s":"k21","x":2002,"y":132},{"s":"k21","x":2003,"y":145},{"s":"k21","x":2004,"y":165},{"s":"k21","x":2005,"y":200},{"s":"k21","x":2006,"y":240},{"s":"k21","x":2007,"y":220},{"s":"k21","x":2008,"y":170},
{"s":"k22","x":1994,"y":100},{"s":"k22","x":1995,"y":104},{"s":"k22","x":1996,"y":108},{"s":"k22","x":1997,"y":112},{"s":"k22","x":1998,"y":117},{"s":"k22","x":1999,"y":123},{"s":"k22","x":2000,"y":130},{"s":"k22","x":2001,"y":138},{"s":"k22","x":2002,"y":150},{"s":"k22","x":2003,"y":165},{"s":"k22","x":2004,"y":190},{"s":"k22","x":2005,"y":230},{"s":"k22","x":2006,"y":265},{"s":"k22","x":2007,"y":275},{"s":"k22","x":2008,"y":240},
{"s":"k23","x":1994,"y":100},{"s":"k23","x":1995,"y":110},{"s":"k23","x":1996,"y":114},{"s":"k23","x":1997,"y":118},{"s":"k23","x":1998,"y":124},{"s":"k23","x":1999,"y":130},{"s":"k23","x":2000,"y":138},{"s":"k23","x":2001,"y":146},{"s":"k23","x":2002,"y":158},{"s":"k23","x":2003,"y":175},{"s":"k23","x":2004,"y":205},{"s":"k23","x":2005,"y":265},{"s":"k23","x":2006,"y":290},{"s":"k23","x":2007,"y":250},{"s":"k23","x":2008,"y":285},
{"s":"k24","x":1994,"y":100},{"s":"k24","x":1995,"y":122},{"s":"k24","x":1996,"y":126},{"s":"k24","x":1997,"y":130},{"s":"k24","x":1998,"y":136},{"s":"k24","x":1999,"y":143},{"s":"k24","x":2000,"y":152},{"s":"k24","x":2001,"y":162},{"s":"k24","x":2002,"y":176},{"s":"k24","x":2003,"y":195},{"s":"k24","x":2004,"y":225},{"s":"k24","x":2005,"y":275},{"s":"k24","x":2006,"y":300},{"s":"k24","x":2007,"y":285},{"s":"k24","x":2008,"y":240},
{"s":"k25","x":1994,"y":100},{"s":"k25","x":1995,"y":98},{"s":"k25","x":1996,"y":100},{"s":"k25","x":1997,"y":103},{"s":"k25","x":1998,"y":107},{"s":"k25","x":1999,"y":112},{"s":"k25","x":2000,"y":118},{"s":"k25","x":2001,"y":126},{"s":"k25","x":2002,"y":138},{"s":"k25","x":2003,"y":152},{"s":"k25","x":2004,"y":175},{"s":"k25","x":2005,"y":215},{"s":"k25","x":2006,"y":255},{"s":"k25","x":2007,"y":270},{"s":"k25","x":2008,"y":210},
{"s":"k26","x":1994,"y":100},{"s":"k26","x":1995,"y":115},{"s":"k26","x":1996,"y":118},{"s":"k26","x":1997,"y":122},{"s":"k26","x":1998,"y":128},{"s":"k26","x":1999,"y":134},{"s":"k26","x":2000,"y":142},{"s":"k26","x":2001,"y":152},{"s":"k26","x":2002,"y":165},{"s":"k26","x":2003,"y":180},{"s":"k26","x":2004,"y":210},{"s":"k26","x":2005,"y":255},{"s":"k26","x":2006,"y":290},{"s":"k26","x":2007,"y":240},{"s":"k26","x":2008,"y":195},
{"s":"k27","x":1994,"y":100},{"s":"k27","x":1995,"y":102},{"s":"k27","x":1996,"y":105},{"s":"k27","x":1997,"y":108},{"s":"k27","x":1998,"y":112},{"s":"k27","x":1999,"y":117},{"s":"k27","x":2000,"y":123},{"s":"k27","x":2001,"y":130},{"s":"k27","x":2002,"y":140},{"s":"k27","x":2003,"y":155},{"s":"k27","x":2004,"y":180},{"s":"k27","x":2005,"y":225},{"s":"k27","x":2006,"y":255},{"s":"k27","x":2007,"y":240},{"s":"k27","x":2008,"y":170},
{"s":"k28","x":1994,"y":100},{"s":"k28","x":1995,"y":112},{"s":"k28","x":1996,"y":115},{"s":"k28","x":1997,"y":118},{"s":"k28","x":1998,"y":123},{"s":"k28","x":1999,"y":129},{"s":"k28","x":2000,"y":136},{"s":"k28","x":2001,"y":144},{"s":"k28","x":2002,"y":155},{"s":"k28","x":2003,"y":170},{"s":"k28","x":2004,"y":195},{"s":"k28","x":2005,"y":240},{"s":"k28","x":2006,"y":230},{"s":"k28","x":2007,"y":215},{"s":"k28","x":2008,"y":175},
{"s":"k29","x":1994,"y":100},{"s":"k29","x":1995,"y":106},{"s":"k29","x":1996,"y":110},{"s":"k29","x":1997,"y":114},{"s":"k29","x":1998,"y":118},{"s":"k29","x":1999,"y":124},{"s":"k29","x":2000,"y":131},{"s":"k29","x":2001,"y":139},{"s":"k29","x":2002,"y":150},{"s":"k29","x":2003,"y":165},{"s":"k29","x":2004,"y":190},{"s":"k29","x":2005,"y":235},{"s":"k29","x":2006,"y":270},{"s":"k29","x":2007,"y":260},{"s":"k29","x":2008,"y":200},
{"s":"k30","x":1994,"y":100},{"s":"k30","x":1995,"y":100},{"s":"k30","x":1996,"y":102},{"s":"k30","x":1997,"y":105},{"s":"k30","x":1998,"y":108},{"s":"k30","x":1999,"y":113},{"s":"k30","x":2000,"y":119},{"s":"k30","x":2001,"y":126},{"s":"k30","x":2002,"y":136},{"s":"k30","x":2003,"y":150},{"s":"k30","x":2004,"y":172},{"s":"k30","x":2005,"y":210},{"s":"k30","x":2006,"y":245},{"s":"k30","x":2007,"y":230},{"s":"k30","x":2008,"y":175},
{"s":"k31","x":1994,"y":100},{"s":"k31","x":1995,"y":116},{"s":"k31","x":1996,"y":120},{"s":"k31","x":1997,"y":124},{"s":"k31","x":1998,"y":130},{"s":"k31","x":1999,"y":137},{"s":"k31","x":2000,"y":146},{"s":"k31","x":2001,"y":156},{"s":"k31","x":2002,"y":168},{"s":"k31","x":2003,"y":184},{"s":"k31","x":2004,"y":215},{"s":"k31","x":2005,"y":260},{"s":"k31","x":2006,"y":285},{"s":"k31","x":2007,"y":270},{"s":"k31","x":2008,"y":210},
{"s":"k32","x":1994,"y":100},{"s":"k32","x":1995,"y":124},{"s":"k32","x":1996,"y":127},{"s":"k32","x":1997,"y":131},{"s":"k32","x":1998,"y":137},{"s":"k32","x":1999,"y":146},{"s":"k32","x":2000,"y":158},{"s":"k32","x":2001,"y":172},{"s":"k32","x":2002,"y":188},{"s":"k32","x":2003,"y":208},{"s":"k32","x":2004,"y":235},{"s":"k32","x":2005,"y":285},{"s":"k32","x":2006,"y":300},{"s":"k32","x":2007,"y":290},{"s":"k32","x":2008,"y":250}
]
},
"hconcat": [
{
  "width": 327, "height": 341,
  "title": {"text": "(a) State", "dx": -27.5},
  "data": {"name": "state"},
  "mark": {"type": "line", "strokeWidth": 1.3},
  "encoding": {
    "x": {"field": "x", "type": "quantitative", "scale": {"domain": [1993.59, 2008.45], "nice": false, "zero": false}, "axis": {"values": [1994,1996,1998,2000,2002,2004,2006,2008], "labelExpr": "substring(toString(datum.value), 2)", "title": null}},
    "y": {"field": "y", "type": "quantitative", "scale": {"domain": [95.06, 305.56], "nice": false, "zero": false}, "axis": {"values": [100,150,200,250,300], "title": "Repeat Sales Index"}},
    "color": {"field": "s", "type": "nominal", "scale": {"domain": ["Florida, FDOR", "Florida, FHFA", "U.S.A., Case−Shiller"], "range": ["#006400", "#ff4500", "#1a476f"]},
      "legend": {"orient": "none", "legendX": 5, "legendY": 5, "title": null, "symbolType": "stroke", "symbolSize": 2916, "symbolStrokeWidth": 1.5, "clipHeight": 20, "rowPadding": 0, "labelFont": "Liberation Sans", "labelFontSize": 14, "labelColor": "#111", "labelOffset": 9, "labelLimit": 300, "padding": 4, "strokeColor": "#333", "fillColor": "white"}}
  }
},
{
  "bounds": "flush",
  "spacing": 118,
  "resolve": {"scale": {"color": "independent"}, "legend": {"color": "independent"}},
  "hconcat": [
  {
    "width": 318, "height": 341,
    "title": {"text": "(b) Cities", "dx": -33},
    "data": {"name": "cities"},
    "mark": {"type": "line", "strokeWidth": 1.1},
    "encoding": {
      "x": {"field": "x", "type": "quantitative", "scale": {"domain": [1993.58, 2008.41], "nice": false, "zero": false}, "axis": {"values": [1994,1996,1998,2000,2002,2004,2006,2008], "labelExpr": "substring(toString(datum.value), 2)", "title": null}},
      "y": {"field": "y", "type": "quantitative", "scale": {"domain": [-49.4, 2055.6], "nice": false, "zero": false}, "axis": {"values": [0,500,1000,1500,2000], "title": "Repeat Sales Index"}},
      "color": {"field": "s", "type": "nominal", "legend": null, "scale": {
        "domain": ["c01","c02","c03","c04","c05","c06","c07","c08","c09","c10","c11","c12","c13","c14","c15","c16","c17","c18","c19","c20","c21","c22","c23","c24","c25","c26","c27","c28","c29","c30","c31","c32","c33","c34","c35","c36","c37","c38","c39","c40","c41","c42","c43","c44","c45"],
        "range": ["#1a476f","#8b2b3b","#006400","#ff7f00","#ff0000","#00ee00","#00e5ee","#ff00ff","#800080","#ff4500","#6e8e84","#b5d8b5","#a0522d","#999999","#add8e6","#1a476f","#ff4500","#8b2b3b","#5f9ea0","#ff4500","#ff0000","#ff7f00","#9c8a4a","#800080","#8b2b3b","#00e5ee","#00ee00","#999999","#ff0000","#00ee00","#ff7f00","#006400","#ff4500","#ff0000","#ff00ff","#6e8e84","#555555","#8b2b3b","#1a476f","#ff0000","#ff4500","#00ffff","#00ee00","#a0522d","#999999"]}}
    }
  },
  {
    "width": 325.6, "height": 341,
    "title": {"text": "(c) Counties", "dx": -27.5},
    "data": {"name": "counties"},
    "mark": {"type": "line", "strokeWidth": 1.1},
    "encoding": {
      "x": {"field": "x", "type": "quantitative", "scale": {"domain": [1993.59, 2008.38], "nice": false, "zero": false}, "axis": {"values": [1994,1996,1998,2000,2002,2004,2006,2008], "labelExpr": "substring(toString(datum.value), 2)", "title": null}},
      "y": {"field": "y", "type": "quantitative", "scale": {"domain": [-15.5, 644.5], "nice": false, "zero": false}, "axis": {"values": [0,200,400,600], "title": "Repeat Sales Index"}},
      "color": {"field": "s", "type": "nominal", "legend": null, "scale": {
        "domain": ["k01","k02","k03","k04","k05","k06","k07","k08","k09","k10","k11","k12","k13","k14","k15","k16","k17","k18","k19","k20","k21","k22","k23","k24","k25","k26","k27","k28","k29","k30","k31","k32"],
        "range": ["#b5d8b5","#8b3a3a","#94403a","#a0522d","#ff00ff","#800080","#800080","#ff7f00","#00ee00","#00e5ee","#1a476f","#006400","#add8e6","#ff7f00","#ff0000","#ff0000","#00ee00","#6e8e84","#999999","#8b5a2b","#ff00ff","#00e5ee","#1a476f","#ff4500","#00ee00","#a0522d","#006400","#9c8a4a","#8b3a3a","#999999","#ff0000","#ff7f00"]}}
    }
  }
  ]
}
]
}
